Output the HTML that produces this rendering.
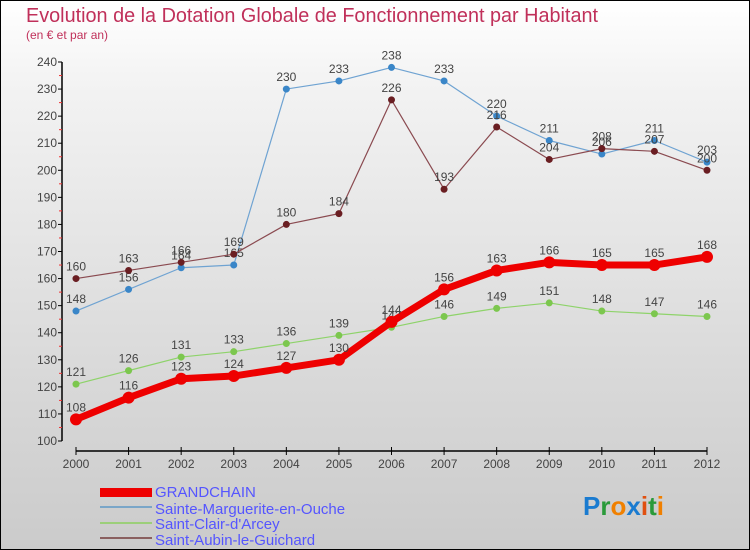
<!DOCTYPE html>
<html><head><meta charset="utf-8"><style>
body{margin:0;}
#wrap{width:750px;height:550px;position:relative;box-sizing:border-box;border:1px solid #000;background:linear-gradient(#fff,#f3f3f3 15%,#d8d8d8 70%,#cbcbcb);font-family:"Liberation Sans",sans-serif;overflow:hidden}
</style></head><body>
<div id="wrap">
<svg id="svg" width="750" height="550" style="position:absolute;left:-1px;top:-1px">
<text x="26" y="22" font-size="20" fill="#c0305a" textLength="572" lengthAdjust="spacingAndGlyphs">Evolution de la Dotation Globale de Fonctionnement par Habitant</text>
<text x="26" y="39" font-size="12" fill="#c0305a">(en € et par an)</text>
<g id="axes"></g><g id="series"></g>
<g>
<rect x="100" y="488" width="52" height="9" fill="#e00"/>
<text x="155" y="497" font-size="15" fill="#5555ff">GRANDCHAIN</text>
<rect x="100" y="506" width="52" height="2" fill="#7aa6c8"/>
<text x="155" y="514" font-size="15" fill="#5555ff">Sainte-Marguerite-en-Ouche</text>
<rect x="100" y="522" width="52" height="2" fill="#9ccf7a"/>
<text x="155" y="529" font-size="15" fill="#5555ff">Saint-Clair-d'Arcey</text>
<rect x="100" y="537" width="52" height="2" fill="#8a6060"/>
<text x="155" y="545" font-size="15" fill="#5555ff">Saint-Aubin-le-Guichard</text>
</g>
<text x="583" y="515" font-size="26" font-weight="bold"><tspan fill="#1a7bd0">P</tspan><tspan fill="#2a9a3a">r</tspan><tspan fill="#f08000">o</tspan><tspan fill="#1a7bd0">x</tspan><tspan fill="#e05010">i</tspan><tspan fill="#2a9a3a">t</tspan><tspan fill="#f08000">i</tspan></text>
</svg>
</div>
<script>
const years=["2000","2001","2002","2003","2004","2005","2006","2007","2008","2009","2010","2011","2012"];
const yTicks=[100,110,120,130,140,150,160,170,180,190,200,210,220,230,240];
const grandchain=[108,116,123,124,127,130,144,156,163,166,165,165,168];
const marguerite=[148,156,164,165,230,233,238,233,220,211,206,211,203];
const clair=[121,126,131,133,136,139,142,146,149,151,148,147,146];
const aubin=[160,163,166,169,180,184,226,193,216,204,208,207,200];
const NS="http://www.w3.org/2000/svg";
const X=i=>76+i*(707-76)/12;
const Y=v=>441-(v-100)*(441-62)/140;
function mk(t,a,p){const e=document.createElementNS(NS,t);for(const k in a)e.setAttribute(k,a[k]);p.appendChild(e);return e;}
const ax=document.getElementById('axes');
let l=mk('line',{x1:62,y1:Y(240),x2:62,y2:Y(100),stroke:'#000','stroke-width':1.5},ax);


yTicks.forEach(v=>{
 let t=mk('line',{x1:58,y1:Y(v),x2:62,y2:Y(v),stroke:'#000'},ax);
 
 
 if(v<240){let m=mk('line',{x1:59,y1:Y(v+5),x2:62,y2:Y(v+5),stroke:'#e33'},ax);
 
 }
 let tx=mk('text',{x:57,y:Y(v)+4,'font-size':12,fill:'#444','text-anchor':'end'},ax);tx.textContent=v;
 
 
});
l=mk('line',{x1:X(0),y1:451,x2:X(12),y2:451,stroke:'#000','stroke-width':1.5},ax);


years.forEach((y,i)=>{
 let t=mk('line',{x1:X(i),y1:447,x2:X(i),y2:455,stroke:'#000'},ax);
 
 
 let tx=mk('text',{x:X(i),y:468,'font-size':12,fill:'#444','text-anchor':'middle'},ax);tx.textContent=y;
 
 
});
const sg=document.getElementById('series');
function series(d,col,dot,w,r,name){
 const g=mk('g',{},sg);
 
 
 let p=mk('polyline',{points:d.map((v,i)=>X(i)+','+Y(v)).join(' '),fill:'none',stroke:col,'stroke-width':w,'stroke-linejoin':'round'},g);
 
 
 d.forEach((v,i)=>{
  let c=mk('circle',{cx:X(i),cy:Y(v),r:r,fill:dot},g);
  
  
  let t=mk('text',{x:X(i),y:Y(v)-8,'font-size':12,fill:'#444','text-anchor':'middle'},g);t.textContent=v;
  
  
 });
}
series(marguerite,'#6fa3d2','#3a86c8',1.2,3.5,'sainte-marguerite-series');
series(clair,'#8ed36a','#7cc74e',1.2,3.5,'saint-clair-series');
series(aubin,'#8a4a50','#6a1e22',1.2,3.5,'saint-aubin-series');
series(grandchain,'#ee0000','#ee0000',7,6,'grandchain-series');
</script>
</body></html>
